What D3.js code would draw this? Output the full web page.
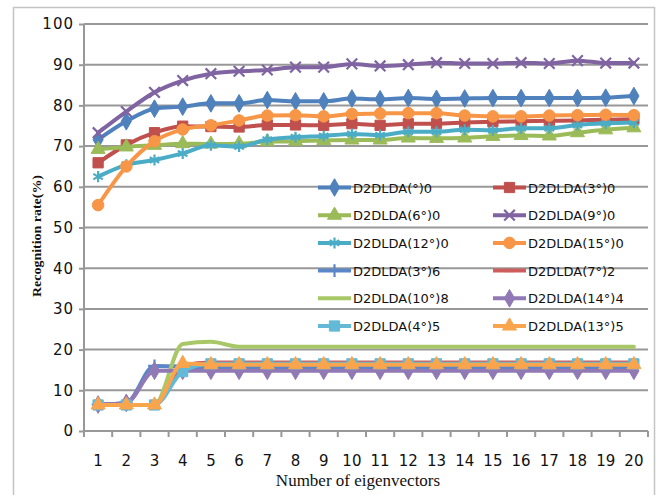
<!DOCTYPE html>
<html><head><meta charset="utf-8">
<script src="https://cdn.jsdelivr.net/npm/d3@7"></script>
<style>body{margin:0;background:#fff}svg{display:block}</style>
</head><body>
<svg id="c" width="660" height="495"></svg>
<script>
const categories = d3.range(1, 21);
const yTicks = [0,10,20,30,40,50,60,70,80,90,100];
const angles = ["0","30","60","90","120","150","36","72","108","144","45","135"];
const s0   = [71.6,76.1,79.2,79.7,80.5,80.5,81.3,81.0,81.0,81.7,81.5,81.8,81.6,81.7,81.8,81.8,81.8,81.8,81.9,82.3];
const s30  = [65.9,70.3,73.3,74.9,74.8,74.7,75.2,75.2,75.1,75.5,75.1,75.5,75.5,75.8,76.0,76.1,76.2,76.3,76.5,76.6];
const s60  = [69.2,69.8,70.2,70.6,70.5,70.6,71.1,71.2,71.4,71.5,71.5,72.0,71.9,72.0,72.4,72.6,72.5,73.3,74.0,74.5];
const s90  = [73.3,78.5,83.2,86.1,87.8,88.4,88.7,89.4,89.4,90.2,89.7,90.0,90.5,90.3,90.3,90.5,90.3,91.0,90.4,90.4];
const s120 = [62.5,65.4,66.6,68.2,70.2,69.9,71.6,72.2,72.5,73.0,72.7,73.5,73.5,74.0,73.9,74.4,74.4,75.2,75.6,75.8];
const s150 = [55.5,65.0,71.2,74.1,75.1,76.3,77.5,77.6,77.3,77.9,78.0,78.1,78.1,77.5,77.3,77.3,77.5,77.6,77.7,77.6];
const s36  = [6.5,6.9,16.0,15.8,15.6,15.6,15.6,15.6,15.6,15.6,15.6,15.6,15.6,15.6,15.6,15.6,15.6,15.6,15.6,15.6];
const s72  = [6.4,6.4,6.4,16.0,16.8,16.8,16.8,16.8,16.8,16.8,16.8,16.8,16.8,16.8,16.8,16.8,16.8,16.8,16.8,16.8];
const s108 = [6.4,6.4,6.4,21.4,21.9,20.7,20.7,20.7,20.7,20.7,20.7,20.7,20.7,20.7,20.7,20.7,20.7,20.7,20.7,20.7];
const s144 = [6.5,6.9,14.8,14.8,14.8,14.8,14.8,14.8,14.8,14.8,14.8,14.8,14.8,14.8,14.8,14.8,14.8,14.8,14.8,14.8];
const s45  = [6.4,6.4,6.4,14.6,16.5,16.5,16.5,16.5,16.5,16.5,16.5,16.5,16.5,16.5,16.5,16.5,16.5,16.5,16.5,16.5];
const s135 = [6.4,6.4,6.4,16.6,16.3,16.3,16.3,16.3,16.3,16.3,16.3,16.3,16.3,16.3,16.3,16.3,16.3,16.3,16.3,16.3];
const seriesValues = [s0,s30,s60,s90,s120,s150,s36,s72,s108,s144,s45,s135];

const colors = ["#4F81BD","#C0504D","#9BBB59","#8064A2","#4BACC6","#F79646",
                "#5B87C8","#CD5E5B","#A8C868","#9079B4","#63B9D6","#F8A54E"];
const markers = ["diamond","square","triangle","x","star","circle",
                 "plus","dash","none","diamond","square","triangle"];

const svg = d3.select("#c");
const x = d3.scaleBand().domain(categories).range([84, 648]);
const y = d3.scaleLinear().domain([0, 100]).range([431, 24]);
const grid = "#989898";

svg.append("rect").attr("x",13.5).attr("y",7.5).attr("width",641).attr("height",495)
  .attr("fill","none").attr("stroke","#c4c4c4").attr("stroke-width",1.5);

// gridlines
svg.append("g").selectAll("line").data(yTicks.filter(d=>d>0)).join("line")
  .attr("x1",84).attr("x2",648).attr("y1",d=>y(d)).attr("y2",d=>y(d))
  .attr("stroke",grid).attr("stroke-width",2);

// y axis
const ya = svg.append("g").attr("transform","translate(84,0)")
  .call(d3.axisLeft(y).tickValues(yTicks).tickSize(5).tickPadding(4));
ya.select(".domain").attr("stroke",grid).attr("stroke-width",2).attr("d","M0,24V431");
ya.selectAll(".tick line").attr("stroke",grid).attr("stroke-width",2);
ya.selectAll("text").attr("font-family","DejaVu Sans").attr("font-size",15)
  .attr("fill","#111").attr("letter-spacing",1).attr("dx",-1);

// x axis
const xa = svg.append("g").attr("transform","translate(0,431)")
  .call(d3.axisBottom(x).tickSize(0).tickPadding(24));
xa.select(".domain").attr("stroke",grid).attr("stroke-width",2).attr("d","M84,0H648");
xa.selectAll("text").attr("font-family","DejaVu Sans").attr("font-size",15).attr("fill","#111");
// category boundary ticks
svg.append("g").selectAll("line").data(d3.range(0,21)).join("line")
  .attr("x1",d=>84+d*x.step()).attr("x2",d=>84+d*x.step())
  .attr("y1",431).attr("y2",437).attr("stroke",grid).attr("stroke-width",2);

// titles
svg.append("text").attr("x",358).attr("y",486).attr("text-anchor","middle")
  .attr("font-family","Liberation Serif").attr("font-size",17).attr("fill","#111")
  .text("Number of eigenvectors");
svg.append("text").attr("transform","translate(41,236) rotate(-90)").attr("text-anchor","middle")
  .attr("font-family","Liberation Serif").attr("font-weight","bold").attr("font-size",12)
  .attr("fill","#111").attr("textLength",122).attr("lengthAdjust","spacingAndGlyphs")
  .text("Recognition rate(%)");

function marker(g, type, color, cx, cy) {
  if (type === "none") return;
  const map = {diamond:[d3.symbolDiamond,90], square:[d3.symbolSquare,105], triangle:[d3.symbolTriangle,85],
    circle:[d3.symbolCircle,105], x:[d3.symbolX,75], star:[d3.symbolAsterisk,85], plus:[d3.symbolPlus,55]};
  if (type === "dash") {
    g.append("rect").attr("x",cx-5).attr("y",cy-1.5).attr("width",10).attr("height",3).attr("fill",color);
    return;
  }
  const [sym,size] = map[type];
  const p = g.append("path").attr("transform",`translate(${cx},${cy})`).attr("d",d3.symbol(sym,size)());
  if (type === "x" || type === "star" || type === "plus") p.attr("fill","none").attr("stroke",color).attr("stroke-width",2.2);
  else p.attr("fill",color).attr("stroke",color).attr("stroke-width",1);
}

const line = d3.line().x((d,i)=>x(categories[i])+x.bandwidth()/2).y(d=>y(d)).curve(d3.curveMonotoneX);

// legend
const lg = svg.append("g");
angles.forEach((a,i)=>{
  const col = i%2, row = Math.floor(i/2);
  const lx = col ? 493 : 318, ly = 187.5 + row*27.7;
  lg.append("line").attr("x1",lx).attr("x2",lx+33).attr("y1",ly).attr("y2",ly)
    .attr("stroke",colors[i]).attr("stroke-width",4);
  marker(lg, markers[i], colors[i], lx+16.5, ly);
  const head = a.slice(0,-1), last = a.slice(-1);
  lg.append("text").attr("x",lx+35).attr("y",ly+5).attr("font-family","DejaVu Sans")
    .attr("font-size",13).attr("fill","#111")
    .text("D2DLDA(" + head + "°)" + last);
});

// series
seriesValues.forEach((vals,i)=>{
  const g = svg.append("g");
  g.append("path").attr("d",line(vals)).attr("fill","none").attr("stroke",colors[i])
    .attr("stroke-width",4).attr("stroke-linejoin","round").attr("stroke-linecap","round");
  vals.forEach((v,j)=> marker(g, markers[i], colors[i], x(categories[j])+x.bandwidth()/2, y(v)));
});
</script>
</body></html>
